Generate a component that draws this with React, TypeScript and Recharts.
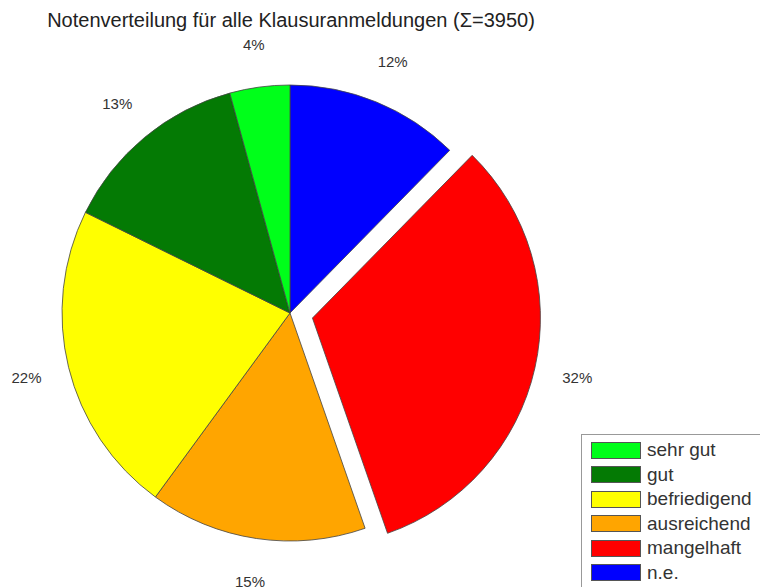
import React from 'react';
import { PieChart, Pie, Cell } from 'recharts';

const categories = ['n.e.', 'mangelhaft', 'ausreichend', 'befriedigend', 'gut', 'sehr gut'];
const counts = [488, 1276, 608, 878, 532, 168];
const colors = ['#0000ff', '#ff0000', '#ffa500', '#ffff00', '#047a04', '#00ff1a'];
const legendOrder = ['sehr gut', 'gut', 'befriedigend', 'ausreichend', 'mangelhaft', 'n.e.'];
const explodedCategory = 'mangelhaft';
const titleText = 'Notenverteilung für alle Klausuranmeldungen (\u03A3=3950)';

const data = categories.map((name, i) => ({ name, value: counts[i] }));
const explodedIndex = categories.indexOf(explodedCategory);

const CX = 290;
const CY = 313;
const R = 228;
const EXPLODE = 23;

const total = counts.reduce((a, b) => a + b, 0);
const before = counts.slice(0, explodedIndex).reduce((a, b) => a + b, 0);
const midFrac = (before + counts[explodedIndex] / 2) / total;
const ecx = CX + EXPLODE * Math.sin(midFrac * 2 * Math.PI);
const ecy = CY - EXPLODE * Math.cos(midFrac * 2 * Math.PI);

const FONT = '"Liberation Sans", Arial, Helvetica, sans-serif';
const RAD = Math.PI / 180;

const makeLabel = (onlyExploded: boolean) => (props: any) => {
  const { cx, cy, midAngle, outerRadius, percent, index } = props;
  const isExp = index === explodedIndex;
  if (onlyExploded !== isExp) return <g />;
  const r = outerRadius * 1.19;
  const x = cx + r * Math.cos(-midAngle * RAD);
  const y = cy + r * Math.sin(-midAngle * RAD);
  return (
    <text x={x} y={y} textAnchor="middle" dominantBaseline="central" fill="#333" fontSize={15} fontFamily={FONT}>
      {Math.round(percent * 100)}%
    </text>
  );
};

export default function App() {
  return (
    <div style={{ position: 'absolute', left: 0, top: 0, width: 760, height: 587, background: '#fff', overflow: 'hidden', fontFamily: FONT }}>
      <div style={{ position: 'absolute', left: 0, width: 582, top: 8, textAlign: 'center', fontSize: 20, color: '#222', lineHeight: '24px', whiteSpace: 'nowrap' }}>
        {titleText}
      </div>
      <div style={{ position: 'absolute', left: 0, top: 0 }}>
        <PieChart width={760} height={600} margin={{ top: 0, right: 0, bottom: 0, left: 0 }}>
          <Pie
            data={data}
            dataKey="value"
            nameKey="name"
            cx={CX}
            cy={CY}
            outerRadius={R}
            startAngle={90}
            endAngle={-270}
            isAnimationActive={false}
            label={makeLabel(false)}
            labelLine={false}
          >
            {data.map((d, i) => (
              <Cell
                key={d.name}
                fill={i === explodedIndex ? 'none' : colors[i]}
                stroke={i === explodedIndex ? 'none' : '#444'}
                strokeWidth={0.8}
              />
            ))}
          </Pie>
          <Pie
            data={data}
            dataKey="value"
            nameKey="name"
            cx={ecx}
            cy={ecy}
            outerRadius={R}
            startAngle={90}
            endAngle={-270}
            isAnimationActive={false}
            label={makeLabel(true)}
            labelLine={false}
          >
            {data.map((d, i) => (
              <Cell
                key={d.name}
                fill={i === explodedIndex ? colors[i] : 'none'}
                stroke={i === explodedIndex ? '#444' : 'none'}
                strokeWidth={0.8}
              />
            ))}
          </Pie>
        </PieChart>
      </div>
      <div style={{ position: 'absolute', left: 581, top: 434, width: 200, height: 170, border: '1px solid #999', background: '#fff' }}>
        {legendOrder.map((name, k) => {
          const i = categories.indexOf(name);
          return (
            <div key={name} style={{ position: 'absolute', left: 9, top: 6 + k * 24.5, height: 18, display: 'flex', alignItems: 'center' }}>
              <div style={{ width: 50, height: 17, background: colors[i], border: '1px solid #555', boxSizing: 'border-box' }} />
              <span style={{ marginLeft: 6, fontSize: 19, color: '#333', lineHeight: '18px' }}>{name}</span>
            </div>
          );
        })}
      </div>
    </div>
  );
}
